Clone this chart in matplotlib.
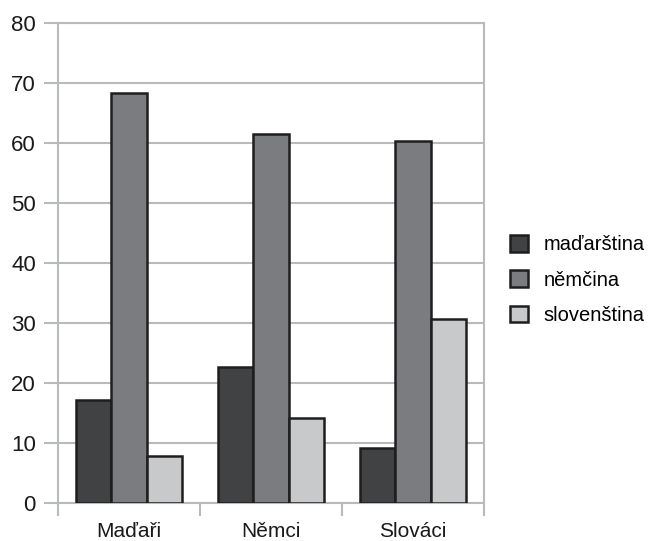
import matplotlib
matplotlib.use("Agg")
import matplotlib.pyplot as plt
import numpy as np
from matplotlib.patches import Patch

plt.rcParams['font.family'] = ['Liberation Sans', 'DejaVu Sans']

categories = ["Maďaři", "Němci", "Slováci"]
series_names = ["maďarština", "němčina", "slovenština"]
madarstina = [17.2, 22.7, 9.2]
nemcina = [68.3, 61.5, 60.3]
slovenstina = [7.8, 14.2, 30.7]
colors = ["#414244", "#7b7c7f", "#c8c9cb"]
grid_color = "#b9babc"

fig = plt.figure(figsize=(6.53, 5.41), dpi=100)
ax = fig.add_axes([58/653, 38/541, (484-58)/653, (503-23)/541])

x = np.arange(len(categories))
w = 0.25
for i, (vals, c) in enumerate(zip([madarstina, nemcina, slovenstina], colors)):
    ax.bar(x + (i - 1) * w, vals, width=w, color=c, edgecolor="#1e1e1e",
           linewidth=1.8, zorder=3)

ax.set_xlim(-0.5, 2.5)
ax.set_ylim(0, 80)
ax.set_yticks(range(0, 81, 10))
ax.yaxis.grid(True, color=grid_color, linewidth=1.5, zorder=0)
ax.set_xticks(x)
ax.set_xticklabels(categories, fontsize=15, color="#1a1a1a")
ax.set_xticks([-0.5, 0.5, 1.5, 2.5], minor=True)
ax.tick_params(axis='x', which='major', length=0, pad=14)
ax.tick_params(axis='x', which='minor', length=9, width=1.5, color=grid_color)
ax.tick_params(axis='y', length=10, width=1.5, color=grid_color, pad=6,
               labelsize=16, labelcolor="#1a1a1a")
for s in ax.spines.values():
    s.set_color(grid_color)
    s.set_linewidth(1.5)

handles = [Patch(facecolor=c, edgecolor="#1e1e1e", linewidth=1.8) for c in colors]
fig.legend(handles, series_names, loc="center left",
           bbox_to_anchor=(510/653, 1 - 280/541), frameon=False,
           fontsize=14.5, handlelength=0.9, handleheight=0.9,
           handletextpad=0.75, labelspacing=0.8, borderpad=0,
           borderaxespad=0)

fig.savefig("out.png", dpi=100, facecolor="white")
